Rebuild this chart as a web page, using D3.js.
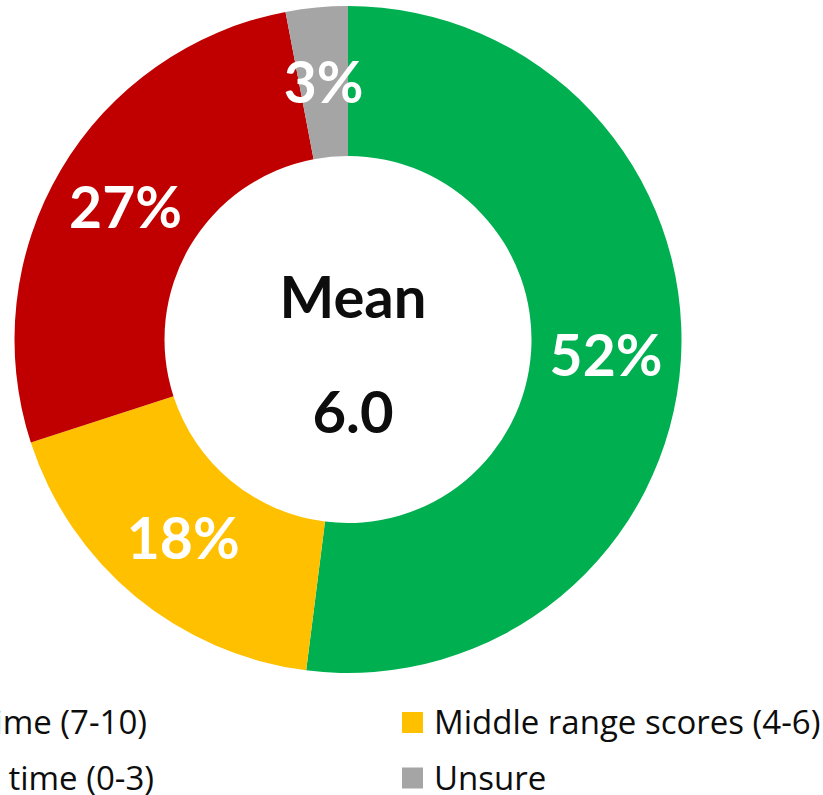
<!DOCTYPE html>
<html>
<head>
<meta charset="utf-8">
<script src="https://cdn.jsdelivr.net/npm/d3@7"></script>
<style>
  html, body { margin: 0; padding: 0; background: #fff; overflow: hidden; }
  svg { display: block; }
</style>
</head>
<body>
<div id="chart"></div>
<script>
// Donut of score groups, mean in the middle

const categories = ["High scores most of the time (7-10)", "Middle range scores (4-6)",
                    "Low scores most of the time (0-3)", "Unsure"];
const values = [52, 18, 27, 3];
const colors = ["#00B050", "#FFC000", "#C00000", "#A5A5A5"];
const meanTitle = "Mean";
const meanValue = "6.0";

const width = 823;
const height = 795;
const cx = 348, cy = 339.5;
const outerR = 333.5, innerR = 183.5;

const svg = d3.select("#chart")
  .append("svg")
  .attr("width", width)
  .attr("height", height);

const pie = d3.pie().sort(null).value(d => d)(values);
const arc = d3.arc().innerRadius(innerR).outerRadius(outerR);
const labelArc = d3.arc().innerRadius((innerR + outerR) / 2).outerRadius((innerR + outerR) / 2);

const g = svg.append("g").attr("transform", `translate(${cx},${cy})`);

g.selectAll("path")
  .data(pie)
  .enter()
  .append("path")
  .attr("d", arc)
  .attr("fill", (d, i) => colors[i]);

g.selectAll("text.pct")
  .data(pie)
  .enter()
  .append("text")
  .attr("class", "pct")
  .attr("transform", d => `translate(${labelArc.centroid(d)})`)
  .attr("dy", "0.36em")
  .attr("text-anchor", "middle")
  .style("font-family", "Lato, 'Open Sans', sans-serif")
  .style("font-weight", "bold")
  .style("font-size", "57px")
  .style("fill", "#fff")
  .text(d => d.data + "%");

// centre text
svg.append("text")
  .attr("x", 353).attr("y", 318)
  .attr("text-anchor", "middle")
  .style("font-family", "Lato, 'Open Sans', sans-serif")
  .style("font-weight", "bold")
  .style("font-size", "58px")
  .style("fill", "#0d0d0d")
  .text(meanTitle);

svg.append("text")
  .attr("x", 353).attr("y", 433)
  .attr("text-anchor", "middle")
  .style("font-family", "Lato, 'Open Sans', sans-serif")
  .style("font-weight", "bold")
  .style("font-size", "58px")
  .style("fill", "#0d0d0d")
  .text(meanValue);

// legend, two columns; left column runs off the left edge
const legendRowY = [722.5, 778];
const leg = svg.append("g");

categories.forEach((name, i) => {
  const col = i % 2, row = Math.floor(i / 2);
  const y = legendRowY[row];
  if (col == 1) {
    leg.append("rect")
      .attr("x", 402).attr("y", y - 10.5)
      .attr("width", 21).attr("height", 21)
      .attr("fill", colors[i]);
    leg.append("text")
      .attr("x", 434).attr("y", y)
      .attr("dy", "0.35em")
      .style("font-family", "'Open Sans', sans-serif")
      .style("font-size", "33px")
      .style("fill", "#0d0d0d")
      .text(name);
  } else {
    const t = leg.append("text")
      .attr("x", row == 0 ? 147 : 154).attr("y", y)
      .attr("dy", "0.35em")
      .attr("text-anchor", "end")
      .style("font-family", "'Open Sans', sans-serif")
      .style("font-size", "33px")
      .style("fill", "#0d0d0d")
      .text(name);
    const bb = t.node().getBBox();
    leg.append("rect")
      .attr("x", bb.x - 33).attr("y", y - 10.5)
      .attr("width", 21).attr("height", 21)
      .attr("fill", colors[i]);
  }
});
</script>
</body>
</html>
